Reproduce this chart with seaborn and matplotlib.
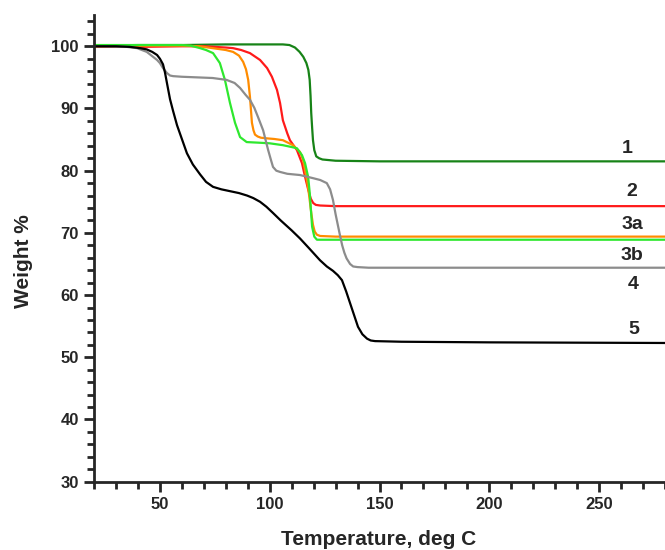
import numpy as np
import pandas as pd
import matplotlib
matplotlib.use("Agg")
import matplotlib.pyplot as plt
import seaborn as sns
from matplotlib.ticker import MultipleLocator

# TGA curves (temperature in deg C, weight in %)
temp_1 = [20, 40, 60, 80, 100, 106, 109, 111.5, 113.6, 115.3, 116.7, 117.6, 118.2, 118.6, 118.9, 119.3, 119.7, 120.3, 121.2, 122.5, 124, 130, 150, 200, 250, 280]
weight_1 = [100.1, 100.2, 100.2, 100.3, 100.3, 100.3, 100.2, 99.8, 99.1, 98.3, 97.3, 96.2, 94.6, 92.0, 89.3, 87.0, 84.9, 83.3, 82.3, 82.0, 81.8, 81.6, 81.5, 81.5, 81.5, 81.5]

temp_2 = [20, 40, 60, 70, 80, 83.3, 87, 91, 95.6, 98.8, 101, 103.3, 104.7, 106, 108, 109.2, 110.8, 112.4, 114.7, 116.1, 117.5, 118.7, 119.8, 121, 123, 130, 200, 280]
weight_2 = [99.9, 99.9, 100.0, 100.0, 99.8, 99.7, 99.4, 98.9, 97.8, 96.5, 95.1, 93.0, 90.9, 88.1, 86.0, 84.9, 84.1, 83.3, 81.2, 79.0, 77.0, 75.5, 74.8, 74.5, 74.4, 74.3, 74.3, 74.3]

temp_3a = [20, 40, 60, 68, 76, 80, 83.3, 86, 87.9, 89.2, 90.2, 91, 91.9, 92.6, 93.3, 94.5, 96, 98.6, 102, 106, 110.6, 113.8, 115.2, 116.7, 117.6, 118.3, 119, 119.7, 120.5, 121.5, 123, 130, 200, 280]
weight_3a = [100.0, 100.1, 100.1, 100.0, 99.6, 99.4, 99.1, 98.5, 97.5, 96.3, 94.6, 91.9, 87.7, 86.5, 85.8, 85.5, 85.3, 85.2, 85.1, 84.9, 84.1, 83.0, 81.7, 79.0, 77.0, 75.0, 73.0, 71.3, 70.2, 69.7, 69.5, 69.4, 69.4, 69.4]

temp_3b = [20, 40, 60, 64, 68.3, 71, 74.2, 77.3, 79.6, 81.9, 84.2, 86.5, 89.5, 95, 100, 106, 110, 112.4, 114.7, 116.1, 117.5, 118.2, 118.8, 119.3, 120.3, 121.5, 123, 130, 200, 280]
weight_3b = [100.2, 100.2, 100.2, 100.1, 99.7, 99.4, 98.9, 97.3, 94.6, 90.9, 87.7, 85.4, 84.6, 84.5, 84.4, 84.1, 83.8, 83.6, 82.5, 81.2, 79.0, 76.5, 73.5, 71.0, 69.4, 68.9, 68.9, 68.9, 68.9, 68.9]

temp_4 = [20, 35, 39.6, 44, 48.7, 50, 51.4, 53.2, 54.6, 56, 60, 67, 74, 80.3, 84, 86.5, 89, 91, 93, 94.7, 97, 99.3, 100.5, 101.5, 103, 104.7, 108, 113.8, 119.7, 123, 126, 127.5, 128.8, 130, 131, 132, 133, 134, 135, 136.6, 138, 140, 145, 200, 280]
weight_4 = [100.0, 99.9, 99.7, 99.1, 97.8, 97.3, 96.5, 95.7, 95.3, 95.2, 95.1, 95.0, 94.9, 94.6, 94.1, 93.3, 92.2, 91.4, 90.1, 88.6, 86.5, 83.3, 81.8, 80.6, 80.0, 79.8, 79.5, 79.3, 78.8, 78.5, 78.0, 77.0, 75.3, 73.0, 71.3, 69.6, 68.0, 66.8, 65.9, 65.0, 64.6, 64.5, 64.4, 64.4, 64.4]

temp_5 = [20, 30, 36.4, 41, 44, 46.5, 48.7, 50, 51.4, 52.3, 53.2, 54.6, 56, 57.8, 59.2, 62.3, 65, 68.3, 71, 74.2, 78, 82, 86, 89.7, 92.5, 95.6, 98.5, 101.5, 105, 110, 113.8, 118, 122.9, 126, 128.8, 131, 132.9, 134.8, 136.6, 138.4, 140.2, 142.2, 144.3, 146, 148, 160, 200, 280]
weight_5 = [100.0, 100.0, 99.9, 99.7, 99.5, 99.1, 98.6, 98.0, 97.1, 95.8, 94.1, 91.5, 89.6, 87.3, 85.9, 82.8, 81.0, 79.4, 78.2, 77.4, 77.0, 76.7, 76.4, 76.0, 75.6, 75.0, 74.2, 73.2, 72.0, 70.4, 69.1, 67.5, 65.6, 64.6, 63.9, 63.2, 62.4, 60.6, 58.7, 56.8, 54.9, 53.7, 53.0, 52.7, 52.6, 52.5, 52.4, 52.3]

curve_names = ["1", "2", "3a", "3b", "4", "5"]
curve_colors = ["#178317", "#ff1a1a", "#ff8c00", "#2ee82e", "#8c8c8c", "#000000"]
label_x = [263, 265, 265, 265, 265.5, 266]
label_y = [83.5, 76.6, 71.3, 66.4, 61.7, 54.5]

curves = [(temp_1, weight_1), (temp_2, weight_2), (temp_3a, weight_3a),
          (temp_3b, weight_3b), (temp_4, weight_4), (temp_5, weight_5)]

sns.set_style("ticks")
plt.rcParams['font.family'] = ['Liberation Sans', 'DejaVu Sans']
plt.rcParams['font.weight'] = 'bold'

fig = plt.figure(figsize=(6.65, 5.5), dpi=100)
ax = fig.add_axes([0.1414, 0.1242, 0.8586, 0.8482])

for (t, w), name, col in zip(curves, curve_names, curve_colors):
    df = pd.DataFrame({"Temperature": t, "Weight": w})
    sns.lineplot(data=df, x="Temperature", y="Weight", color=col, lw=1.6,
                 sort=False, estimator=None, ax=ax)

for name, lx, ly in zip(curve_names, label_x, label_y):
    ax.text(lx, ly, name, ha="center", va="center", fontsize=14, fontweight="bold")

ax.set_xlim(20, 280)
ax.set_ylim(30, 105)
ax.xaxis.set_major_locator(MultipleLocator(50))
ax.xaxis.set_minor_locator(MultipleLocator(10))
ax.yaxis.set_major_locator(MultipleLocator(10))
ax.yaxis.set_minor_locator(MultipleLocator(2))
ax.set_yticks([30, 40, 50, 60, 70, 80, 90, 100])

sns.despine(ax=ax)
for side in ["left", "bottom"]:
    ax.spines[side].set_linewidth(2)
ax.tick_params(which="major", direction="out", length=7, width=2, labelsize=12, pad=4)
ax.tick_params(which="minor", direction="out", length=5, width=2)
for lab in ax.get_xticklabels() + ax.get_yticklabels():
    lab.set_fontweight("bold")

ax.set_xlabel("Temperature, deg C", fontsize=15, fontweight="bold")
ax.set_ylabel("Weight %", fontsize=15, fontweight="bold")
ax.xaxis.set_label_coords(0.499, -0.103)
ax.yaxis.set_label_coords(-0.107, 0.473)

fig.savefig("out.png", dpi=100)
